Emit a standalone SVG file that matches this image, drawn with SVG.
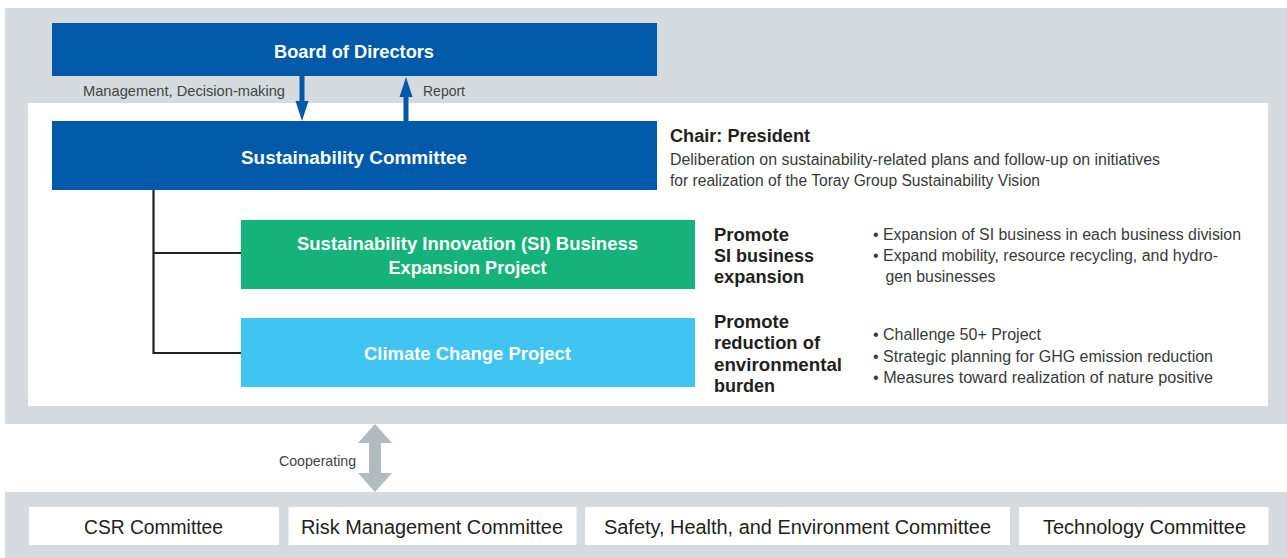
<svg xmlns="http://www.w3.org/2000/svg" width="1287" height="558" viewBox="0 0 1287 558">
<defs>
<style>
.panel{fill:#d5dbde}
.white{fill:#ffffff}
.blue{fill:#0059a9}
.green{fill:#15b37a}
.sky{fill:#40c5f2}
.tb{font-family:"Liberation Sans",Arial,sans-serif;font-weight:bold;fill:#ffffff;text-anchor:middle}
.hd{font-family:"Liberation Sans",Arial,sans-serif;font-weight:bold;fill:#231f20}
.tx{font-family:"Liberation Sans",Arial,sans-serif;fill:#3a3a3a}
.cm{font-family:"Liberation Sans",Arial,sans-serif;fill:#231f20;font-size:20px}
.lbl{font-family:"Liberation Sans",Arial,sans-serif;fill:#444444;font-size:15px}
.wire{fill:none;stroke:#231f20;stroke-width:2.2}
</style>
</defs>

<rect class="panel" x="5" y="8" width="1282" height="416"/>
<rect class="white" x="28" y="103" width="1240" height="303"/>
<rect class="panel" x="5" y="492" width="1282" height="66"/>

<g id="connectors">
<polyline class="wire" points="153.5,190 153.5,353 241,353"/>
<line class="wire" x1="153.5" y1="253" x2="241" y2="253"/>
<polygon fill="#0059a9" points="299.5,76 304.5,76 304.5,101 308.5,101 302,121 295.5,101 299.5,101"/>
<polygon fill="#0059a9" points="403.5,121 408.5,121 408.5,97 412.5,97 406,77 399.5,97 403.5,97"/>
<polygon fill="#b1bcc1" points="375,424 392,443 381,443 381,473 392,473 375,492 358,473 369,473 369,443 358,443"/>
<text class="lbl" x="83" y="96" textLength="202" lengthAdjust="spacingAndGlyphs">Management, Decision-making</text>
<text class="lbl" x="423" y="96" textLength="42" lengthAdjust="spacingAndGlyphs">Report</text>
<text class="lbl" x="279" y="466" textLength="77" lengthAdjust="spacingAndGlyphs">Cooperating</text>
</g>

<g id="board">
<rect class="blue" x="52" y="23" width="605" height="53"/>
<text class="tb" x="354" y="58" font-size="19" textLength="160" lengthAdjust="spacingAndGlyphs">Board of Directors</text>
</g>

<g id="sustainability-committee">
<rect class="blue" x="52" y="121" width="605" height="69"/>
<text class="tb" x="354" y="164" font-size="19" textLength="226" lengthAdjust="spacingAndGlyphs">Sustainability Committee</text>
</g>

<g id="chair-note">
<text class="hd" x="670" y="142" font-size="18" textLength="140" lengthAdjust="spacingAndGlyphs">Chair: President</text>
<text class="tx" x="670" y="165" font-size="16" textLength="490" lengthAdjust="spacingAndGlyphs">Deliberation on sustainability-related plans and follow-up on initiatives</text>
<text class="tx" x="670" y="186" font-size="16" textLength="370" lengthAdjust="spacingAndGlyphs">for realization of the Toray Group Sustainability Vision</text>
</g>

<g id="si-project">
<rect class="green" x="241" y="220" width="454" height="69"/>
<text class="tb" x="467.5" y="250" font-size="18.5" textLength="341" lengthAdjust="spacingAndGlyphs">Sustainability Innovation (SI) Business</text>
<text class="tb" x="467.5" y="274" font-size="18.5" textLength="158" lengthAdjust="spacingAndGlyphs">Expansion Project</text>
</g>

<g id="si-note">
<text class="hd" x="714" y="241" font-size="18.5" textLength="75" lengthAdjust="spacingAndGlyphs">Promote</text>
<text class="hd" x="714" y="262" font-size="18.5" textLength="100" lengthAdjust="spacingAndGlyphs">SI business</text>
<text class="hd" x="714" y="283" font-size="18.5" textLength="90" lengthAdjust="spacingAndGlyphs">expansion</text>
<text class="tx" x="873" y="240" font-size="16" textLength="368" lengthAdjust="spacingAndGlyphs">• Expansion of SI business in each business division</text>
<text class="tx" x="873" y="261" font-size="16" textLength="345" lengthAdjust="spacingAndGlyphs">• Expand mobility, resource recycling, and hydro-</text>
<text class="tx" x="885.5" y="282" font-size="16" textLength="110" lengthAdjust="spacingAndGlyphs">gen businesses</text>
</g>

<g id="climate-project">
<rect class="sky" x="241" y="318" width="454" height="69"/>
<text class="tb" x="467.5" y="360" font-size="18.5" textLength="207" lengthAdjust="spacingAndGlyphs">Climate Change Project</text>
</g>

<g id="climate-note">
<text class="hd" x="714" y="328" font-size="18.5" textLength="75" lengthAdjust="spacingAndGlyphs">Promote</text>
<text class="hd" x="714" y="349" font-size="18.5" textLength="106" lengthAdjust="spacingAndGlyphs">reduction of</text>
<text class="hd" x="714" y="371" font-size="18.5" textLength="128" lengthAdjust="spacingAndGlyphs">environmental</text>
<text class="hd" x="714" y="392" font-size="18.5" textLength="61" lengthAdjust="spacingAndGlyphs">burden</text>
<text class="tx" x="873" y="340" font-size="16" textLength="168" lengthAdjust="spacingAndGlyphs">• Challenge 50+ Project</text>
<text class="tx" x="873" y="362" font-size="16" textLength="340" lengthAdjust="spacingAndGlyphs">• Strategic planning for GHG emission reduction</text>
<text class="tx" x="873" y="383" font-size="16" textLength="340" lengthAdjust="spacingAndGlyphs">• Measures toward realization of nature positive</text>
</g>

<g id="csr">
<rect class="white" x="29" y="507" width="250" height="38"/>
<text class="cm" x="84" y="534" textLength="139" lengthAdjust="spacingAndGlyphs">CSR Committee</text>
</g>
<g id="risk">
<rect class="white" x="288.5" y="507" width="288" height="38"/>
<text class="cm" x="301" y="534" textLength="262" lengthAdjust="spacingAndGlyphs">Risk Management Committee</text>
</g>
<g id="safety">
<rect class="white" x="585" y="507" width="425" height="38"/>
<text class="cm" x="604" y="534" textLength="387" lengthAdjust="spacingAndGlyphs">Safety, Health, and Environment Committee</text>
</g>
<g id="technology">
<rect class="white" x="1019" y="507" width="249.5" height="38"/>
<text class="cm" x="1043" y="534" textLength="203" lengthAdjust="spacingAndGlyphs">Technology Committee</text>
</g>
</svg>
